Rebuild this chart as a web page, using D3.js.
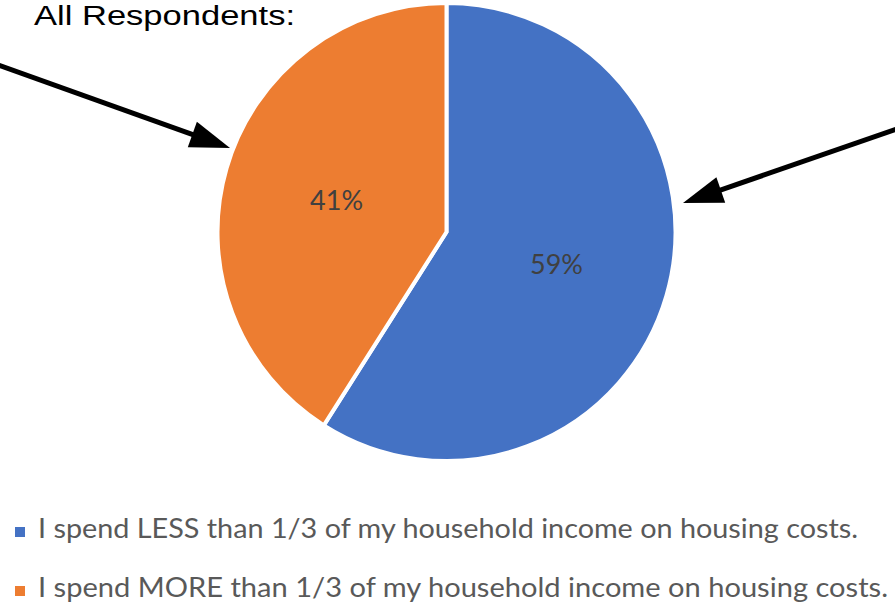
<!DOCTYPE html>
<html>
<head>
<meta charset="utf-8">
<script src="https://cdn.jsdelivr.net/npm/d3@7/dist/d3.min.js"></script>
<style>
  html, body { margin: 0; padding: 0; background: #fff; }
  svg { display: block; }
</style>
</head>
<body>
<svg id="chart" width="895" height="603"></svg>
<script>
// Survey answers and their shares
const categories = [
  "I spend LESS than 1/3 of my household income on housing costs.",
  "I spend MORE than 1/3 of my household income on housing costs."
];
const values = [59, 41];
const labels = ["59%", "41%"];
const colors = ["#4472C4", "#ED7D31"];
const title = "All Respondents:";

const svg = d3.select("#chart");
const W = 895, H = 603;
const cx = 446.5, cy = 232, R = 229;

const color = d3.scaleOrdinal().domain(categories).range(colors);

const pie = d3.pie().sort(null).value(d => d.value);
const data = categories.map((c, i) => ({ cat: c, value: values[i], label: labels[i] }));
const arcs = pie(data);

const arc = d3.arc().innerRadius(0).outerRadius(R);
const labelArc = d3.arc().innerRadius(0).outerRadius(R);

const g = svg.append("g").attr("transform", `translate(${cx},${cy})`);

g.selectAll("path.slice")
  .data(arcs)
  .enter().append("path")
  .attr("class", "slice")
  .attr("d", arc)
  .attr("fill", d => color(d.data.cat))
  .attr("stroke", "#fff")
  .attr("stroke-width", 4)
  .attr("stroke-linejoin", "miter");

g.selectAll("text.pct")
  .data(arcs)
  .enter().append("text")
  .attr("class", "pct")
  .attr("x", d => labelArc.centroid(d)[0])
  .attr("y", d => labelArc.centroid(d)[1] + 10)
  .attr("text-anchor", "middle")
  .attr("font-family", "Lato, 'Open Sans', sans-serif")
  .attr("font-size", 27)
  .attr("fill", "#404040")
  .text(d => d.data.label);

// Title
svg.append("text")
  .attr("x", 34)
  .attr("y", 25)
  .attr("font-family", "'Liberation Sans', Arial, sans-serif")
  .attr("font-size", 27)
  .attr("fill", "#000")
  .attr("textLength", 261)
  .attr("lengthAdjust", "spacingAndGlyphs")
  .text(title);

// Callout arrows
function arrow(x0, y0, x1, y1) {
  const dx = x1 - x0, dy = y1 - y0, L = Math.hypot(dx, dy);
  const ux = dx / L, uy = dy / L;
  const headLen = 40, halfW = 13.5;
  const bx = x1 - ux * headLen, by = y1 - uy * headLen;
  svg.append("line")
    .attr("x1", x0).attr("y1", y0)
    .attr("x2", bx + ux * 2).attr("y2", by + uy * 2)
    .attr("stroke", "#000").attr("stroke-width", 5);
  svg.append("path")
    .attr("d", `M${x1},${y1}L${bx - uy * halfW},${by + ux * halfW}L${bx + uy * halfW},${by - ux * halfW}Z`)
    .attr("fill", "#000");
}
arrow(-2, 65, 230, 148);
arrow(897, 129, 683, 203);

// Legend
const legend = svg.append("g");
const rows = [
  { y: 538, len: 820 },
  { y: 597, len: 850 }
];
categories.forEach((c, i) => {
  legend.append("rect")
    .attr("x", 15).attr("y", rows[i].y - 11)
    .attr("width", 10).attr("height", 10)
    .attr("fill", color(c));
  legend.append("text")
    .attr("x", 38).attr("y", rows[i].y)
    .attr("font-family", "Lato, 'Open Sans', sans-serif")
    .attr("font-size", 27)
    .attr("fill", "#595959")
    .attr("textLength", rows[i].len)
    .attr("lengthAdjust", "spacingAndGlyphs")
    .text(c);
});
</script>
</body>
</html>
